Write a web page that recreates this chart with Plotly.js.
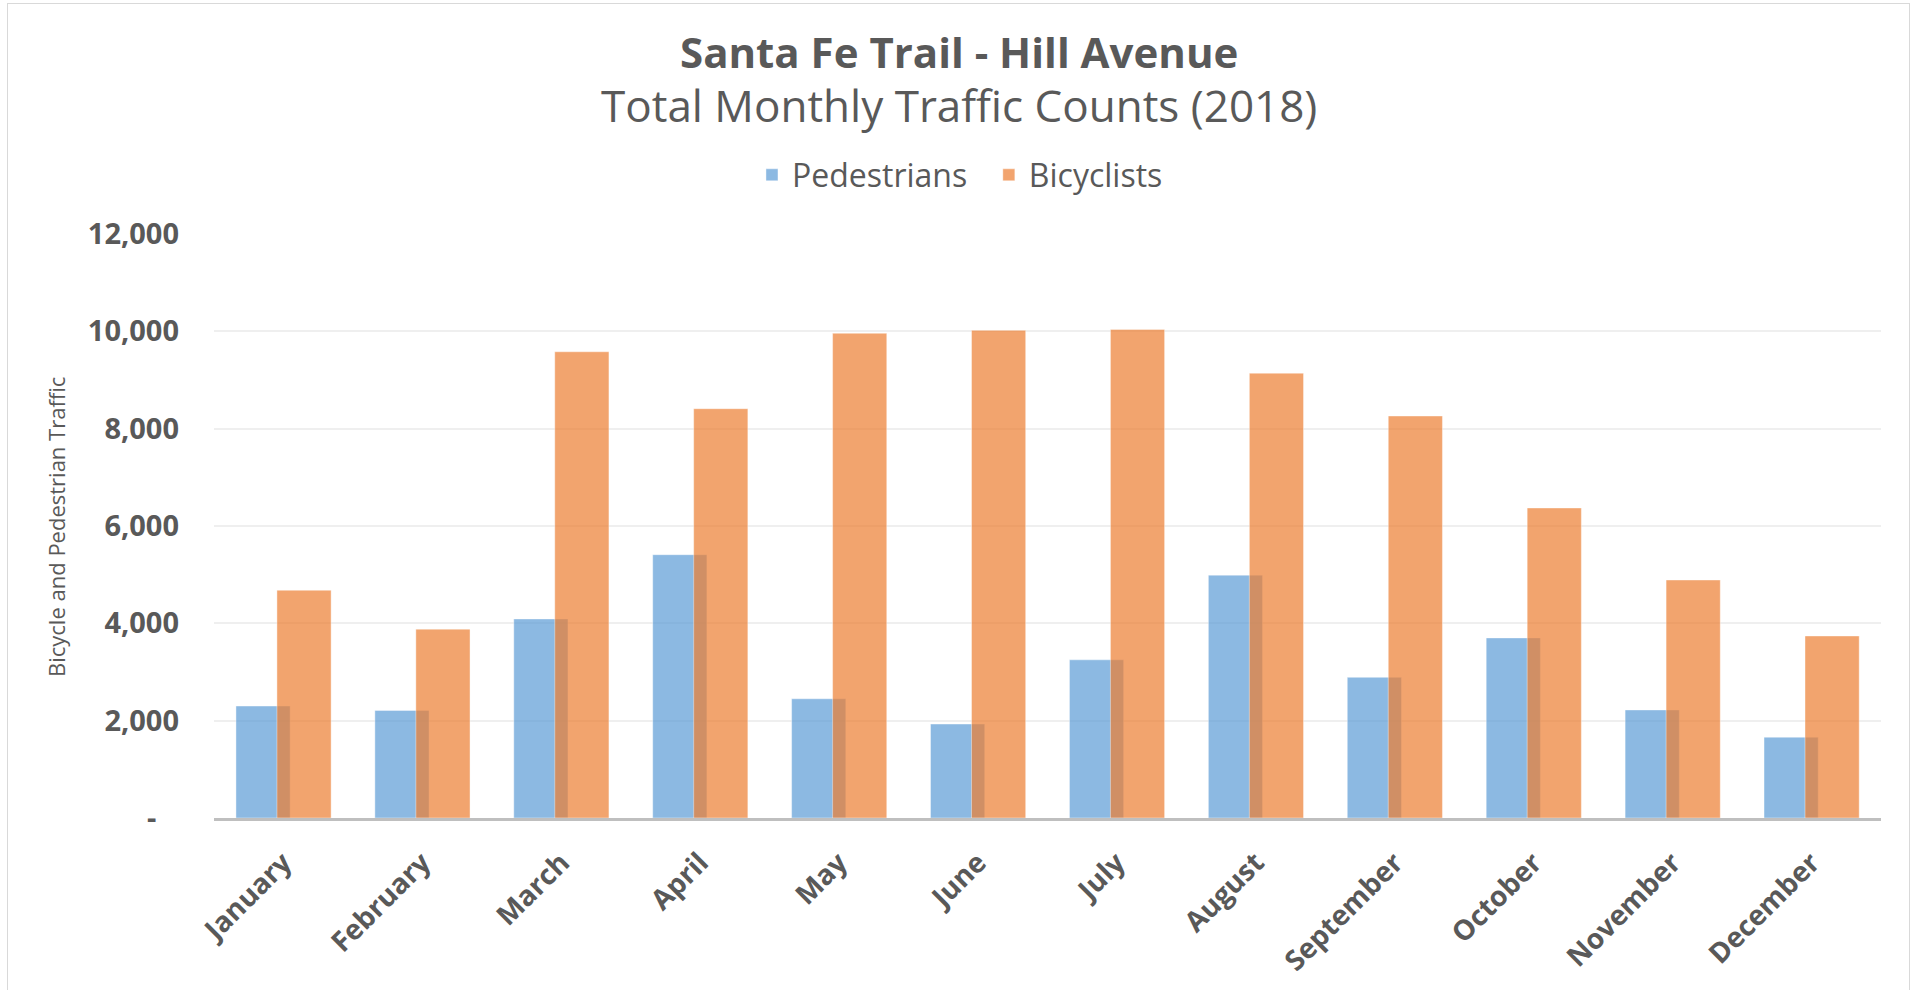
<!DOCTYPE html>
<html>
<head>
<meta charset="utf-8">
<script src="https://cdn.plot.ly/plotly-3.0.1.min.js"></script>
<style>
    html, body { margin: 0; padding: 0; background: #fff; }
    #frame { position: absolute; left: 7px; top: 3px; width: 1903px; height: 990px;
             border: 1px solid #d9d9d9; border-bottom: none; box-sizing: border-box; }
    #chart { position: absolute; left: 0; top: 0; width: 1919px; height: 990px; }
</style>
</head>
<body>
<div id="frame"></div>
<div id="chart"></div>
<script>
    // Santa Fe Trail - Hill Avenue, monthly counts 2018
    var MONTHS = ['January', 'February', 'March', 'April', 'May', 'June',
                  'July', 'August', 'September', 'October', 'November', 'December'];
    var PEDESTRIANS = [2300, 2210, 4090, 5410, 2450, 1930, 3250, 4990, 2890, 3700, 2220, 1660];
    var BICYCLISTS = [4680, 3880, 9580, 8410, 9960, 10020, 10040, 9140, 8260, 6370, 4890, 3740];
    var Y_TICKS = [0, 2000, 4000, 6000, 8000, 10000, 12000];
    var Y_LABELS = ['-\u00a0\u00a0\u00a0', '2,000', '4,000', '6,000', '8,000', '10,000', '12,000'];

    var INK = '#595959';
    var FAMILY = '"Open Sans", "DejaVu Sans", sans-serif';
    var GAP = '\u00a0\u00a0';   // a bit more room between legend items, like Excel

    var traces = [
        {
            type: 'bar', name: 'Pedestrians' + GAP, x: MONTHS, y: PEDESTRIANS,
            width: 0.39, offset: -0.342,
            marker: { color: 'rgba(91,155,213,0.7)', line: { color: 'rgba(255,255,255,0.5)', width: 0.8 } },
            hoverinfo: 'x+y',
        },
        {
            type: 'bar', name: 'Bicyclists', x: MONTHS, y: BICYCLISTS,
            width: 0.39, offset: -0.047,
            marker: { color: 'rgba(237,125,49,0.7)', line: { color: 'rgba(255,255,255,0.5)', width: 0.8 } },
            hoverinfo: 'x+y',
        },
    ];

    var layout = {
        width: 1919, height: 990,
        paper_bgcolor: 'rgba(0,0,0,0)', plot_bgcolor: 'rgba(0,0,0,0)',
        margin: { l: 214, r: 38, t: 234, b: 172 },
        barmode: 'overlay',
        font: { family: FAMILY, color: INK },
        showlegend: true,
        legend: {
            orientation: 'h', xref: 'paper', yref: 'paper',
            x: 0.4475, xanchor: 'center', y: 1.101, yanchor: 'middle',
            font: { family: FAMILY, size: 32, color: INK },
            itemwidth: 30, tracegroupgap: 0,
        },
        xaxis: {
            type: 'category', tickangle: -45,
            tickfont: { family: FAMILY, size: 28, color: INK, weight: 'bold' },
            showline: true, linecolor: '#bfbfbf', linewidth: 3,
            showgrid: false, zeroline: false, ticks: '',
            ticklabelstandoff: 14, fixedrange: true,
        },
        yaxis: {
            range: [0, 12000], tickvals: Y_TICKS, ticktext: Y_LABELS,
            tickfont: { family: FAMILY, size: 29, color: INK, weight: 'bold' },
            showgrid: true, gridcolor: '#efefef', gridwidth: 1.5,
            zeroline: false, showline: false, ticks: '',
            ticklabelstandoff: 34, fixedrange: true,
        },
        annotations: [
            {
                text: '<b>Santa Fe Trail - Hill Avenue</b>', showarrow: false,
                xref: 'paper', yref: 'paper', x: 0.447, y: (818 - 51) / 584,
                xanchor: 'center', yanchor: 'middle',
                font: { family: FAMILY, size: 42, color: INK },
            },
            {
                text: 'Total Monthly Traffic Counts (2018)', showarrow: false,
                xref: 'paper', yref: 'paper', x: 0.447, y: (818 - 105) / 584,
                xanchor: 'center', yanchor: 'middle',
                font: { family: FAMILY, size: 44, color: INK },
            },
            {
                text: 'Bicycle and Pedestrian Traffic', showarrow: false, textangle: -90,
                xref: 'paper', yref: 'paper', x: (56 - 214) / 1667, y: (818 - 527) / 584,
                xanchor: 'center', yanchor: 'middle',
                font: { family: FAMILY, size: 22, color: INK },
            },
        ],
    };

    Plotly.newPlot('chart', traces, layout, { displayModeBar: false, responsive: false });
</script>
</body>
</html>
